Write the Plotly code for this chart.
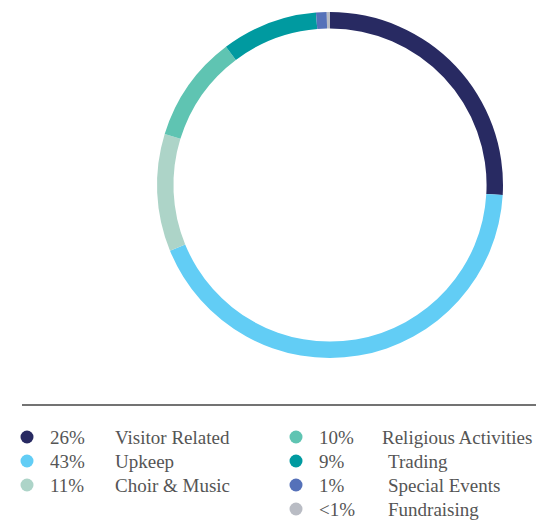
import plotly.graph_objects as go

labels = ["Visitor Related", "Upkeep", "Choir & Music", "Religious Activities",
          "Trading", "Special Events", "Fundraising"]
values = [26, 43, 11, 10, 9, 1, 0.3]
pct_text = ["26%", "43%", "11%", "10%", "9%", "1%", "<1%"]
colors = ["#282a62", "#62cdf5", "#add4c8", "#5fc4b2", "#009aa0", "#5571b9", "#b9bcc4"]

W, H = 536, 520

def px(x):
    return x / W

def py(y):
    return 1 - y / H

fig = go.Figure()
fig.add_trace(go.Pie(
    labels=labels, values=values, sort=False, direction="clockwise", rotation=0,
    hole=0.905, marker=dict(colors=colors, line=dict(width=0)),
    textinfo="none", hoverinfo="label+percent", showlegend=False,
    domain=dict(x=[px(156), px(504)], y=[py(358), py(12)]),
))

shapes = [dict(type="line", xref="paper", yref="paper",
               x0=px(22), x1=px(536), y0=py(405), y1=py(405),
               line=dict(color="#444444", width=1.5))]
annotations = []
font = dict(family="Liberation Serif, DejaVu Serif, serif", size=19, color="#555555")

cols = [
    dict(dot=27, pct=48, lab=[113, 113, 113]),
    dict(dot=296, pct=317, lab=[380, 386, 386, 386]),
]
rows_y = [437, 461, 485, 509]
idx = [(0, 0), (0, 1), (0, 2), (1, 0), (1, 1), (1, 2), (1, 3)]
for i, (c, r) in enumerate(idx):
    col = cols[c]
    y = rows_y[r]
    rad = 6.5
    shapes.append(dict(type="circle", xref="paper", yref="paper",
                       x0=px(col["dot"] - rad), x1=px(col["dot"] + rad),
                       y0=py(y + rad), y1=py(y - rad),
                       fillcolor=colors[i], line=dict(width=0)))
    annotations.append(dict(x=px(col["pct"]), y=py(y), xref="paper", yref="paper",
                            text=pct_text[i], showarrow=False, xanchor="left",
                            yanchor="middle", font=font))
    annotations.append(dict(x=px(col["lab"][r]), y=py(y), xref="paper", yref="paper",
                            text=labels[i], showarrow=False, xanchor="left",
                            yanchor="middle", font=font))

fig.update_layout(
    width=W, height=H, margin=dict(l=0, r=0, t=0, b=0),
    paper_bgcolor="white", plot_bgcolor="white",
    shapes=shapes, annotations=annotations,
)
fig.write_html("out.html", config={"displayModeBar": False},
               post_script="document.body.style.margin='0';document.body.style.overflow='hidden';")
